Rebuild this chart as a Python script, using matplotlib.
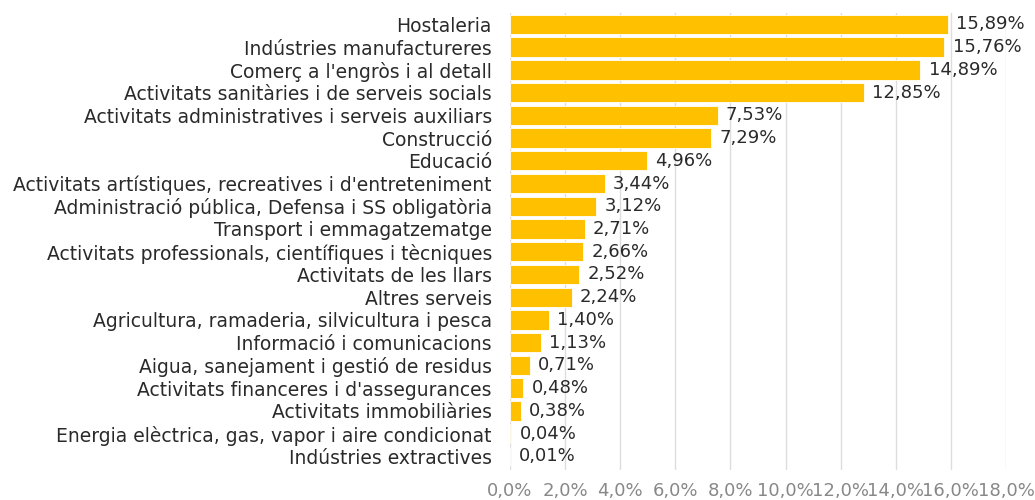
import matplotlib.pyplot as plt
import numpy as np

# sectors and their share (%)
sectors = [
    "Hostaleria",
    "Indústries manufactureres",
    "Comerç a l'engròs i al detall",
    "Activitats sanitàries i de serveis socials",
    "Activitats administratives i serveis auxiliars",
    "Construcció",
    "Educació",
    "Activitats artístiques, recreatives i d'entreteniment",
    "Administració pública, Defensa i SS obligatòria",
    "Transport i emmagatzematge",
    "Activitats professionals, científiques i tècniques",
    "Activitats de les llars",
    "Altres serveis",
    "Agricultura, ramaderia, silvicultura i pesca",
    "Informació i comunicacions",
    "Aigua, sanejament i gestió de residus",
    "Activitats financeres i d'assegurances",
    "Activitats immobiliàries",
    "Energia elèctrica, gas, vapor i aire condicionat",
    "Indústries extractives",
]
shares = [15.89, 15.76, 14.89, 12.85, 7.53, 7.29, 4.96, 3.44, 3.12, 2.71,
          2.66, 2.52, 2.24, 1.40, 1.13, 0.71, 0.48, 0.38, 0.04, 0.01]
xticks = [0, 2, 4, 6, 8, 10, 12, 14, 16, 18]

plt.rcParams['font.family'] = ['DejaVu Sans']

fig = plt.figure(figsize=(10.35, 5.0), dpi=100)
ax = fig.add_axes([0.4928, 0.06, 0.4792, 0.914])

y = np.arange(len(sectors))
ax.barh(y, shares, height=0.85, color='#FFC000', edgecolor='white', linewidth=0.6, zorder=3)

for yi, v in zip(y, shares):
    ax.text(v + 0.3, yi, f"{v:.2f}%".replace('.', ','), va='center', ha='left',
            fontsize=13, color='#2a2a2a', zorder=4)

ax.set_yticks(y)
ax.set_yticklabels(sectors, fontsize=13.5, color='#2a2a2a')
ax.set_ylim(len(sectors) - 0.5 + 0.1, -0.5)
ax.set_xlim(0, 18)
ax.set_xticks(xticks)
ax.set_xticklabels([f"{t:.1f}%".replace('.', ',') for t in xticks], fontsize=13, color='#888888')
ax.tick_params(axis='both', length=0)
ax.tick_params(axis='x', pad=9)
ax.tick_params(axis='y', pad=13)
ax.grid(axis='x', color='#dddddd', linewidth=1, zorder=0)
for s in ax.spines.values():
    s.set_visible(False)

fig.savefig('out.png', dpi=100)
